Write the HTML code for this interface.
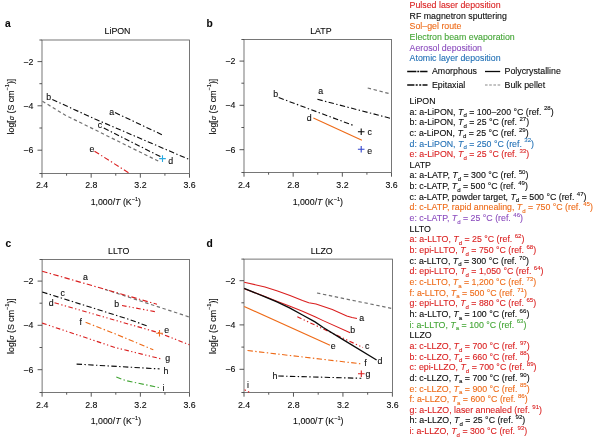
<!DOCTYPE html>
<html><head><meta charset="utf-8"><title>Ionic conductivity of thin-film solid electrolytes</title>
<style>
html,body{margin:0;padding:0;background:#fff;}
body{width:600px;height:440px;overflow:hidden;}
svg{display:block;font-family:"Liberation Sans",sans-serif;}
text{white-space:pre;stroke-width:0.1;}
</style></head><body>
<svg width="600" height="440" viewBox="0 0 600 440">
<rect width="600" height="440" fill="#fff"/>
<g id="pa">
<rect x="42.0" y="40.0" width="147.5" height="133.5" fill="none" stroke="#555" stroke-width="0.8"/>
<line x1="39.4" y1="40.0" x2="42.0" y2="40.0" stroke="#444" stroke-width="0.9"/>
<line x1="37.5" y1="61.6" x2="42.0" y2="61.6" stroke="#444" stroke-width="0.9"/>
<line x1="39.4" y1="83.7" x2="42.0" y2="83.7" stroke="#444" stroke-width="0.9"/>
<line x1="37.5" y1="105.8" x2="42.0" y2="105.8" stroke="#444" stroke-width="0.9"/>
<line x1="39.4" y1="128.0" x2="42.0" y2="128.0" stroke="#444" stroke-width="0.9"/>
<line x1="37.5" y1="150.2" x2="42.0" y2="150.2" stroke="#444" stroke-width="0.9"/>
<line x1="39.4" y1="173.5" x2="42.0" y2="173.5" stroke="#444" stroke-width="0.9"/>
<line x1="42.0" y1="173.5" x2="42.0" y2="177.7" stroke="#444" stroke-width="0.9"/>
<line x1="66.58" y1="173.5" x2="66.58" y2="175.7" stroke="#444" stroke-width="0.9"/>
<line x1="91.17" y1="173.5" x2="91.17" y2="177.7" stroke="#444" stroke-width="0.9"/>
<line x1="115.75" y1="173.5" x2="115.75" y2="175.7" stroke="#444" stroke-width="0.9"/>
<line x1="140.33" y1="173.5" x2="140.33" y2="177.7" stroke="#444" stroke-width="0.9"/>
<line x1="164.92" y1="173.5" x2="164.92" y2="175.7" stroke="#444" stroke-width="0.9"/>
<line x1="189.5" y1="173.5" x2="189.5" y2="177.7" stroke="#444" stroke-width="0.9"/>
<text x="33.3" y="64.7" text-anchor="end" fill="#0a0a0a" stroke="#0a0a0a" font-size="8.8" >−2</text>
<text x="33.3" y="108.9" text-anchor="end" fill="#0a0a0a" stroke="#0a0a0a" font-size="8.8" >−4</text>
<text x="33.3" y="153.3" text-anchor="end" fill="#0a0a0a" stroke="#0a0a0a" font-size="8.8" >−6</text>
<text x="42.1" y="188.1" text-anchor="middle" fill="#0a0a0a" stroke="#0a0a0a" font-size="8.8" >2.4</text>
<text x="91.27" y="188.1" text-anchor="middle" fill="#0a0a0a" stroke="#0a0a0a" font-size="8.8" >2.8</text>
<text x="140.43" y="188.1" text-anchor="middle" fill="#0a0a0a" stroke="#0a0a0a" font-size="8.8" >3.2</text>
<text x="189.6" y="188.1" text-anchor="middle" fill="#0a0a0a" stroke="#0a0a0a" font-size="8.8" >3.6</text>
<text x="117.5" y="33.6" text-anchor="middle" fill="#0a0a0a" stroke="#0a0a0a" font-size="8.8" >LiPON</text>
<text x="5" y="27" text-anchor="start" fill="#0a0a0a" stroke="#0a0a0a" font-size="10.2" font-weight="bold">a</text>
<text x="115.85" y="205" text-anchor="middle" fill="#0a0a0a" stroke="#0a0a0a" font-size="8.8" >1,000/<tspan font-style="italic">T</tspan> (K<tspan dy="-3.9" font-size="5.6">−1</tspan><tspan dy="3.9">)</tspan></text>
<text transform="translate(13.899999999999999 106.6) rotate(-90)" text-anchor="middle" font-size="8.8" fill="#0a0a0a" stroke="#0a0a0a">log[<tspan font-style="italic" font-size="7.2">σ</tspan> (S cm<tspan dy="-5.4" font-size="5.6">−1</tspan><tspan dy="5.4">)]</tspan></text>
<path d="M42.4 101.2 L65 115 L160.5 162.2" fill="none" stroke="#707070" stroke-width="1.2" stroke-dasharray="3.4 2.65"/>
<path d="M52.3 99.5 L95 119 L189.5 159.6" fill="none" stroke="#0a0a0a" stroke-width="1.12" stroke-dasharray="5.4 2.4 1.4 2.4"/>
<path d="M115 112.6 L163 135.2" fill="none" stroke="#0a0a0a" stroke-width="1.12" stroke-dasharray="5.4 2.4 1.4 2.4"/>
<path d="M103.8 128 L162.3 157.6" fill="none" stroke="#0a0a0a" stroke-width="1.12" stroke-dasharray="5.4 2.4 1.4 2.4"/>
<path d="M94.5 151.2 L129.6 173.4" fill="none" stroke="#da1e1e" stroke-width="1.12" stroke-dasharray="5.4 2.4 1.4 2.4"/>
<path d="M159.2 158.6H165.8M162.5 155.29999999999998V161.9" fill="none" stroke="#29a9e0" stroke-width="1.1"/>
<text x="111.8" y="114.8" text-anchor="middle" fill="#0a0a0a" stroke="#0a0a0a" font-size="8.8" >a</text>
<text x="48.8" y="99.8" text-anchor="middle" fill="#0a0a0a" stroke="#0a0a0a" font-size="8.8" >b</text>
<text x="100" y="128.3" text-anchor="middle" fill="#0a0a0a" stroke="#0a0a0a" font-size="8.8" >c</text>
<text x="170.8" y="164.3" text-anchor="middle" fill="#0a0a0a" stroke="#0a0a0a" font-size="8.8" >d</text>
<text x="92" y="151.9" text-anchor="middle" fill="#0a0a0a" stroke="#0a0a0a" font-size="8.8" >e</text>
</g>
<g id="pb">
<rect x="244.0" y="39.5" width="147.5" height="133.0" fill="none" stroke="#555" stroke-width="0.8"/>
<line x1="241.4" y1="39.5" x2="244.0" y2="39.5" stroke="#444" stroke-width="0.9"/>
<line x1="239.5" y1="61.1" x2="244.0" y2="61.1" stroke="#444" stroke-width="0.9"/>
<line x1="241.4" y1="83.2" x2="244.0" y2="83.2" stroke="#444" stroke-width="0.9"/>
<line x1="239.5" y1="105.3" x2="244.0" y2="105.3" stroke="#444" stroke-width="0.9"/>
<line x1="241.4" y1="127.5" x2="244.0" y2="127.5" stroke="#444" stroke-width="0.9"/>
<line x1="239.5" y1="149.7" x2="244.0" y2="149.7" stroke="#444" stroke-width="0.9"/>
<line x1="241.4" y1="172.5" x2="244.0" y2="172.5" stroke="#444" stroke-width="0.9"/>
<line x1="244.0" y1="172.5" x2="244.0" y2="176.7" stroke="#444" stroke-width="0.9"/>
<line x1="268.58" y1="172.5" x2="268.58" y2="174.7" stroke="#444" stroke-width="0.9"/>
<line x1="293.17" y1="172.5" x2="293.17" y2="176.7" stroke="#444" stroke-width="0.9"/>
<line x1="317.75" y1="172.5" x2="317.75" y2="174.7" stroke="#444" stroke-width="0.9"/>
<line x1="342.33" y1="172.5" x2="342.33" y2="176.7" stroke="#444" stroke-width="0.9"/>
<line x1="366.92" y1="172.5" x2="366.92" y2="174.7" stroke="#444" stroke-width="0.9"/>
<line x1="391.5" y1="172.5" x2="391.5" y2="176.7" stroke="#444" stroke-width="0.9"/>
<text x="235.3" y="64.2" text-anchor="end" fill="#0a0a0a" stroke="#0a0a0a" font-size="8.8" >−2</text>
<text x="235.3" y="108.4" text-anchor="end" fill="#0a0a0a" stroke="#0a0a0a" font-size="8.8" >−4</text>
<text x="235.3" y="152.8" text-anchor="end" fill="#0a0a0a" stroke="#0a0a0a" font-size="8.8" >−6</text>
<text x="244.1" y="188.1" text-anchor="middle" fill="#0a0a0a" stroke="#0a0a0a" font-size="8.8" >2.4</text>
<text x="293.27" y="188.1" text-anchor="middle" fill="#0a0a0a" stroke="#0a0a0a" font-size="8.8" >2.8</text>
<text x="342.43" y="188.1" text-anchor="middle" fill="#0a0a0a" stroke="#0a0a0a" font-size="8.8" >3.2</text>
<text x="391.6" y="188.1" text-anchor="middle" fill="#0a0a0a" stroke="#0a0a0a" font-size="8.8" >3.6</text>
<text x="320.9" y="33.6" text-anchor="middle" fill="#0a0a0a" stroke="#0a0a0a" font-size="8.8" >LATP</text>
<text x="206.6" y="27" text-anchor="start" fill="#0a0a0a" stroke="#0a0a0a" font-size="10.2" font-weight="bold">b</text>
<text x="317.85" y="205" text-anchor="middle" fill="#0a0a0a" stroke="#0a0a0a" font-size="8.8" >1,000/<tspan font-style="italic">T</tspan> (K<tspan dy="-3.9" font-size="5.6">−1</tspan><tspan dy="3.9">)</tspan></text>
<text transform="translate(215.9 106.6) rotate(-90)" text-anchor="middle" font-size="8.8" fill="#0a0a0a" stroke="#0a0a0a">log[<tspan font-style="italic" font-size="7.2">σ</tspan> (S cm<tspan dy="-5.4" font-size="5.6">−1</tspan><tspan dy="5.4">)]</tspan></text>
<path d="M367.7 88 L391.2 94.1" fill="none" stroke="#707070" stroke-width="1.2" stroke-dasharray="3.4 2.65"/>
<path d="M278.7 97.6 L353 125.3" fill="none" stroke="#0a0a0a" stroke-width="1.12" stroke-dasharray="5.4 2.4 1.4 2.4"/>
<path d="M317.4 99.3 L391.2 118.5" fill="none" stroke="#0a0a0a" stroke-width="1.12" stroke-dasharray="5.4 2.4 1.4 2.4"/>
<path d="M313.4 118 L361.9 140.3" fill="none" stroke="#ee6a17" stroke-width="1.1"/>
<path d="M357.9 131.8H364.5M361.2 128.5V135.10000000000002" fill="none" stroke="#0a0a0a" stroke-width="1.1"/>
<path d="M357.9 149.2H364.5M361.2 145.89999999999998V152.5" fill="none" stroke="#3344cc" stroke-width="1.1"/>
<text x="275.7" y="97.2" text-anchor="middle" fill="#0a0a0a" stroke="#0a0a0a" font-size="8.8" >b</text>
<text x="320.7" y="94.1" text-anchor="middle" fill="#0a0a0a" stroke="#0a0a0a" font-size="8.8" >a</text>
<text x="309.2" y="120.8" text-anchor="middle" fill="#0a0a0a" stroke="#0a0a0a" font-size="8.8" >d</text>
<text x="369.6" y="134.9" text-anchor="middle" fill="#0a0a0a" stroke="#0a0a0a" font-size="8.8" >c</text>
<text x="369.6" y="154.3" text-anchor="middle" fill="#0a0a0a" stroke="#0a0a0a" font-size="8.8" >e</text>
</g>
<g id="pc">
<rect x="42.1" y="259.5" width="147.4" height="133.0" fill="none" stroke="#555" stroke-width="0.8"/>
<line x1="39.5" y1="259.5" x2="42.1" y2="259.5" stroke="#444" stroke-width="0.9"/>
<line x1="37.6" y1="281.1" x2="42.1" y2="281.1" stroke="#444" stroke-width="0.9"/>
<line x1="39.5" y1="303.2" x2="42.1" y2="303.2" stroke="#444" stroke-width="0.9"/>
<line x1="37.6" y1="325.3" x2="42.1" y2="325.3" stroke="#444" stroke-width="0.9"/>
<line x1="39.5" y1="347.5" x2="42.1" y2="347.5" stroke="#444" stroke-width="0.9"/>
<line x1="37.6" y1="369.7" x2="42.1" y2="369.7" stroke="#444" stroke-width="0.9"/>
<line x1="39.5" y1="392.5" x2="42.1" y2="392.5" stroke="#444" stroke-width="0.9"/>
<line x1="42.1" y1="392.5" x2="42.1" y2="396.7" stroke="#444" stroke-width="0.9"/>
<line x1="66.67" y1="392.5" x2="66.67" y2="394.7" stroke="#444" stroke-width="0.9"/>
<line x1="91.23" y1="392.5" x2="91.23" y2="396.7" stroke="#444" stroke-width="0.9"/>
<line x1="115.8" y1="392.5" x2="115.8" y2="394.7" stroke="#444" stroke-width="0.9"/>
<line x1="140.37" y1="392.5" x2="140.37" y2="396.7" stroke="#444" stroke-width="0.9"/>
<line x1="164.93" y1="392.5" x2="164.93" y2="394.7" stroke="#444" stroke-width="0.9"/>
<line x1="189.5" y1="392.5" x2="189.5" y2="396.7" stroke="#444" stroke-width="0.9"/>
<text x="33.400000000000006" y="284.2" text-anchor="end" fill="#0a0a0a" stroke="#0a0a0a" font-size="8.8" >−2</text>
<text x="33.400000000000006" y="328.4" text-anchor="end" fill="#0a0a0a" stroke="#0a0a0a" font-size="8.8" >−4</text>
<text x="33.400000000000006" y="372.8" text-anchor="end" fill="#0a0a0a" stroke="#0a0a0a" font-size="8.8" >−6</text>
<text x="42.2" y="407.6" text-anchor="middle" fill="#0a0a0a" stroke="#0a0a0a" font-size="8.8" >2.4</text>
<text x="91.33" y="407.6" text-anchor="middle" fill="#0a0a0a" stroke="#0a0a0a" font-size="8.8" >2.8</text>
<text x="140.47" y="407.6" text-anchor="middle" fill="#0a0a0a" stroke="#0a0a0a" font-size="8.8" >3.2</text>
<text x="189.6" y="407.6" text-anchor="middle" fill="#0a0a0a" stroke="#0a0a0a" font-size="8.8" >3.6</text>
<text x="118.7" y="253.8" text-anchor="middle" fill="#0a0a0a" stroke="#0a0a0a" font-size="8.8" >LLTO</text>
<text x="5.4" y="246.5" text-anchor="start" fill="#0a0a0a" stroke="#0a0a0a" font-size="10.2" font-weight="bold">c</text>
<text x="115.89999999999999" y="424" text-anchor="middle" fill="#0a0a0a" stroke="#0a0a0a" font-size="8.8" >1,000/<tspan font-style="italic">T</tspan> (K<tspan dy="-3.9" font-size="5.6">−1</tspan><tspan dy="3.9">)</tspan></text>
<text transform="translate(14.0 326.1) rotate(-90)" text-anchor="middle" font-size="8.8" fill="#0a0a0a" stroke="#0a0a0a">log[<tspan font-style="italic" font-size="7.2">σ</tspan> (S cm<tspan dy="-5.4" font-size="5.6">−1</tspan><tspan dy="5.4">)]</tspan></text>
<path d="M105 289.4 L189.3 317" fill="none" stroke="#707070" stroke-width="1.2" stroke-dasharray="3.4 2.65"/>
<path d="M42.2 271.2 L157 304.3" fill="none" stroke="#da1e1e" stroke-width="1.12" stroke-dasharray="5.4 2.4 1.4 2.4"/>
<path d="M122 305.5 L157 312" fill="none" stroke="#da1e1e" stroke-width="1.12" stroke-dasharray="4.6 2.4 1.3 2.4 1.3 2.4"/>
<path d="M42.2 292 L130 319.7 L148.8 326.6" fill="none" stroke="#0a0a0a" stroke-width="1.12" stroke-dasharray="5.4 2.4 1.4 2.4"/>
<path d="M54.5 302.8 L159 332.8 L189.4 344.8" fill="none" stroke="#da1e1e" stroke-width="1.12" stroke-dasharray="4.6 2.4 1.3 2.4 1.3 2.4"/>
<path d="M85.6 322.3 L115 333.8 L153.3 349.8" fill="none" stroke="#ee6a17" stroke-width="1.12" stroke-dasharray="5.4 2.4 1.4 2.4"/>
<path d="M42.2 323.1 L115 347.5 L162.5 359.2" fill="none" stroke="#da1e1e" stroke-width="1.12" stroke-dasharray="4.6 2.4 1.3 2.4 1.3 2.4"/>
<path d="M76.6 364.1 L159.5 368.9" fill="none" stroke="#0a0a0a" stroke-width="1.12" stroke-dasharray="5.4 2.4 1.4 2.4"/>
<path d="M116.3 376.9 L125 380.4 L159.3 387.6" fill="none" stroke="#43a535" stroke-width="1.12" stroke-dasharray="5.4 2.4 1.4 2.4"/>
<path d="M156.2 333.2H162.8M159.5 329.9V336.5" fill="none" stroke="#ee6a17" stroke-width="1.1"/>
<text x="85.5" y="280.3" text-anchor="middle" fill="#0a0a0a" stroke="#0a0a0a" font-size="8.8" >a</text>
<text x="116.8" y="307.1" text-anchor="middle" fill="#0a0a0a" stroke="#0a0a0a" font-size="8.8" >b</text>
<text x="62.8" y="295.6" text-anchor="middle" fill="#0a0a0a" stroke="#0a0a0a" font-size="8.8" >c</text>
<text x="51.3" y="306.3" text-anchor="middle" fill="#0a0a0a" stroke="#0a0a0a" font-size="8.8" >d</text>
<text x="166.8" y="333.3" text-anchor="middle" fill="#0a0a0a" stroke="#0a0a0a" font-size="8.8" >e</text>
<text x="80.8" y="324.6" text-anchor="middle" fill="#0a0a0a" stroke="#0a0a0a" font-size="8.8" >f</text>
<text x="167.8" y="360.7" text-anchor="middle" fill="#0a0a0a" stroke="#0a0a0a" font-size="8.8" >g</text>
<text x="166" y="373.8" text-anchor="middle" fill="#0a0a0a" stroke="#0a0a0a" font-size="8.8" >h</text>
<text x="163.6" y="390.90000000000003" text-anchor="middle" fill="#0a0a0a" stroke="#0a0a0a" font-size="8.8" >i</text>
</g>
<g id="pd">
<rect x="244.0" y="259.1" width="148.39999999999998" height="133.39999999999998" fill="none" stroke="#555" stroke-width="0.8"/>
<line x1="241.4" y1="259.1" x2="244.0" y2="259.1" stroke="#444" stroke-width="0.9"/>
<line x1="239.5" y1="280.70000000000005" x2="244.0" y2="280.70000000000005" stroke="#444" stroke-width="0.9"/>
<line x1="241.4" y1="302.8" x2="244.0" y2="302.8" stroke="#444" stroke-width="0.9"/>
<line x1="239.5" y1="324.90000000000003" x2="244.0" y2="324.90000000000003" stroke="#444" stroke-width="0.9"/>
<line x1="241.4" y1="347.1" x2="244.0" y2="347.1" stroke="#444" stroke-width="0.9"/>
<line x1="239.5" y1="369.3" x2="244.0" y2="369.3" stroke="#444" stroke-width="0.9"/>
<line x1="241.4" y1="392.5" x2="244.0" y2="392.5" stroke="#444" stroke-width="0.9"/>
<line x1="244.0" y1="392.5" x2="244.0" y2="396.7" stroke="#444" stroke-width="0.9"/>
<line x1="268.73" y1="392.5" x2="268.73" y2="394.7" stroke="#444" stroke-width="0.9"/>
<line x1="293.47" y1="392.5" x2="293.47" y2="396.7" stroke="#444" stroke-width="0.9"/>
<line x1="318.2" y1="392.5" x2="318.2" y2="394.7" stroke="#444" stroke-width="0.9"/>
<line x1="342.93" y1="392.5" x2="342.93" y2="396.7" stroke="#444" stroke-width="0.9"/>
<line x1="367.67" y1="392.5" x2="367.67" y2="394.7" stroke="#444" stroke-width="0.9"/>
<line x1="392.4" y1="392.5" x2="392.4" y2="396.7" stroke="#444" stroke-width="0.9"/>
<text x="235.3" y="283.8" text-anchor="end" fill="#0a0a0a" stroke="#0a0a0a" font-size="8.8" >−2</text>
<text x="235.3" y="328.0" text-anchor="end" fill="#0a0a0a" stroke="#0a0a0a" font-size="8.8" >−4</text>
<text x="235.3" y="372.4" text-anchor="end" fill="#0a0a0a" stroke="#0a0a0a" font-size="8.8" >−6</text>
<text x="244.1" y="407.6" text-anchor="middle" fill="#0a0a0a" stroke="#0a0a0a" font-size="8.8" >2.4</text>
<text x="293.57" y="407.6" text-anchor="middle" fill="#0a0a0a" stroke="#0a0a0a" font-size="8.8" >2.8</text>
<text x="343.03" y="407.6" text-anchor="middle" fill="#0a0a0a" stroke="#0a0a0a" font-size="8.8" >3.2</text>
<text x="392.5" y="407.6" text-anchor="middle" fill="#0a0a0a" stroke="#0a0a0a" font-size="8.8" >3.6</text>
<text x="321.7" y="253.8" text-anchor="middle" fill="#0a0a0a" stroke="#0a0a0a" font-size="8.8" >LLZO</text>
<text x="206.6" y="246.5" text-anchor="start" fill="#0a0a0a" stroke="#0a0a0a" font-size="10.2" font-weight="bold">d</text>
<text x="318.3" y="424" text-anchor="middle" fill="#0a0a0a" stroke="#0a0a0a" font-size="8.8" >1,000/<tspan font-style="italic">T</tspan> (K<tspan dy="-3.9" font-size="5.6">−1</tspan><tspan dy="3.9">)</tspan></text>
<text transform="translate(215.9 326.1) rotate(-90)" text-anchor="middle" font-size="8.8" fill="#0a0a0a" stroke="#0a0a0a">log[<tspan font-style="italic" font-size="7.2">σ</tspan> (S cm<tspan dy="-5.4" font-size="5.6">−1</tspan><tspan dy="5.4">)]</tspan></text>
<path d="M317 293 L391.2 308.3" fill="none" stroke="#707070" stroke-width="1.2" stroke-dasharray="3.4 2.65"/>
<path d="M244.2 282.2 L265 286.9 L277.5 291 L290 295.6 L302.5 300.6 L308.8 302.7 L316 303.9 L332.3 309.5 L346.8 315.9 L352 317.6 L357 318.6" fill="none" stroke="#da1e1e" stroke-width="1.05"/>
<path d="M244.2 288.7 L265 296.6 L277.5 301.6 L290 306.2 L302.5 311.2 L315 316.7 L323.2 320.6 L350.2 332.8" fill="none" stroke="#da1e1e" stroke-width="1.05"/>
<path d="M297.3 316.8 L363 347.5" fill="none" stroke="#da1e1e" stroke-width="1.12" stroke-dasharray="4.6 2.4 1.3 2.4 1.3 2.4"/>
<path d="M244.2 306.5 L330 345.2" fill="none" stroke="#ee6a17" stroke-width="1.2"/>
<path d="M247.5 350.5 L362.6 364" fill="none" stroke="#ee6a17" stroke-width="1.12" stroke-dasharray="5.4 2.4 1.4 2.4"/>
<path d="M244.2 288.4 L265 296.8 L277.5 302.2 L290 308.1 L302.5 315 L315 321.9 L323.2 327.5 L341.4 338.6 L376.6 360" fill="none" stroke="#0a0a0a" stroke-width="1.35"/>
<path d="M278.3 376 L361.3 378.3" fill="none" stroke="#0a0a0a" stroke-width="1.12" stroke-dasharray="5.4 2.4 1.4 2.4"/>
<path d="M244.6 389.7 L249.4 392.3" fill="none" stroke="#da1e1e" stroke-width="1.12" stroke-dasharray="1.5 2.3 1.5 9"/>
<path d="M358.0 373.8H364.6M361.3 370.5V377.1" fill="none" stroke="#da1e1e" stroke-width="1.1"/>
<text x="361.8" y="320.6" text-anchor="middle" fill="#0a0a0a" stroke="#0a0a0a" font-size="8.8" >a</text>
<text x="352.6" y="333.3" text-anchor="middle" fill="#0a0a0a" stroke="#0a0a0a" font-size="8.8" >b</text>
<text x="367.2" y="348.6" text-anchor="middle" fill="#0a0a0a" stroke="#0a0a0a" font-size="8.8" >c</text>
<text x="380" y="363.6" text-anchor="middle" fill="#0a0a0a" stroke="#0a0a0a" font-size="8.8" >d</text>
<text x="333.3" y="348.6" text-anchor="middle" fill="#0a0a0a" stroke="#0a0a0a" font-size="8.8" >e</text>
<text x="365.5" y="366.3" text-anchor="middle" fill="#0a0a0a" stroke="#0a0a0a" font-size="8.8" >f</text>
<text x="368" y="376.6" text-anchor="middle" fill="#0a0a0a" stroke="#0a0a0a" font-size="8.8" >g</text>
<text x="275" y="379.1" text-anchor="middle" fill="#0a0a0a" stroke="#0a0a0a" font-size="8.8" >h</text>
<text x="248" y="387.8" text-anchor="middle" fill="#0a0a0a" stroke="#0a0a0a" font-size="8.8" >i</text>
</g>
<g id="lg">
<text x="409.6" y="8" text-anchor="start" fill="#da1e1e" stroke="#da1e1e" font-size="8.8" >Pulsed laser deposition</text>
<text x="409.6" y="19" text-anchor="start" fill="#0a0a0a" stroke="#0a0a0a" font-size="8.8" >RF magnetron sputtering</text>
<text x="409.6" y="29" text-anchor="start" fill="#ee6a17" stroke="#ee6a17" font-size="8.8" >Sol–gel route</text>
<text x="409.6" y="40" text-anchor="start" fill="#43a535" stroke="#43a535" font-size="8.8" >Electron beam evaporation</text>
<text x="409.6" y="51" text-anchor="start" fill="#8b4cbe" stroke="#8b4cbe" font-size="8.8" >Aerosol deposition</text>
<text x="409.6" y="61" text-anchor="start" fill="#1f6fb5" stroke="#1f6fb5" font-size="8.8" >Atomic layer deposition</text>
<path d="M407.2 71.5H427.5" stroke="#0a0a0a" stroke-width="1.3" stroke-dasharray="9.2 0.9 1.9 0.9 9.5" fill="none"/>
<text x="432" y="74" text-anchor="start" fill="#0a0a0a" stroke="#0a0a0a" font-size="8.8" >Amorphous</text>
<path d="M485 71.5H500.2" stroke="#0a0a0a" stroke-width="1.3" fill="none"/>
<text x="504.6" y="74" text-anchor="start" fill="#0a0a0a" stroke="#0a0a0a" font-size="8.8" >Polycrystalline</text>
<path d="M407.2 85H427.5" stroke="#0a0a0a" stroke-width="1.6" stroke-dasharray="7.2 1.3 2 1.5 2 1.3 5" fill="none"/>
<text x="432" y="87.6" text-anchor="start" fill="#0a0a0a" stroke="#0a0a0a" font-size="8.8" >Epitaxial</text>
<path d="M485 85H500.2" stroke="#b0b0b0" stroke-width="1.5" stroke-dasharray="2.6 1.6" fill="none"/>
<text x="504.6" y="87.6" text-anchor="start" fill="#0a0a0a" stroke="#0a0a0a" font-size="8.8" >Bulk pellet</text>
<text x="409.6" y="103.9" text-anchor="start" fill="#0a0a0a" stroke="#0a0a0a" font-size="8.8" >LiPON</text>
<text x="409.6" y="114.55" text-anchor="start" fill="#0a0a0a" stroke="#0a0a0a" font-size="8.8" >a: a-LiPON, <tspan font-style="italic">T</tspan><tspan dy="2.6" font-size="6.1">d</tspan><tspan dy="-2.6"> </tspan>= 100–200 °C (ref. <tspan dy="-4.1" font-size="6.1">28</tspan><tspan dy="4.1">)</tspan></text>
<text x="409.6" y="125.2" text-anchor="start" fill="#0a0a0a" stroke="#0a0a0a" font-size="8.8" >b: a-LiPON, <tspan font-style="italic">T</tspan><tspan dy="2.6" font-size="6.1">d</tspan><tspan dy="-2.6"> </tspan>= 25 °C (ref. <tspan dy="-4.1" font-size="6.1">27</tspan><tspan dy="4.1">)</tspan></text>
<text x="409.6" y="135.86" text-anchor="start" fill="#0a0a0a" stroke="#0a0a0a" font-size="8.8" >c: a-LiPON, <tspan font-style="italic">T</tspan><tspan dy="2.6" font-size="6.1">d</tspan><tspan dy="-2.6"> </tspan>= 25 °C (ref. <tspan dy="-4.1" font-size="6.1">29</tspan><tspan dy="4.1">)</tspan></text>
<text x="409.6" y="146.51" text-anchor="start" fill="#1f6fb5" stroke="#1f6fb5" font-size="8.8" >d: a-LiPON, <tspan font-style="italic">T</tspan><tspan dy="2.6" font-size="6.1">d</tspan><tspan dy="-2.6"> </tspan>= 250 °C (ref. <tspan dy="-4.1" font-size="6.1">32</tspan><tspan dy="4.1">)</tspan></text>
<text x="409.6" y="157.16" text-anchor="start" fill="#da1e1e" stroke="#da1e1e" font-size="8.8" >e: a-LiPON, <tspan font-style="italic">T</tspan><tspan dy="2.6" font-size="6.1">d</tspan><tspan dy="-2.6"> </tspan>= 25 °C (ref. <tspan dy="-4.1" font-size="6.1">33</tspan><tspan dy="4.1">)</tspan></text>
<text x="409.6" y="167.81" text-anchor="start" fill="#0a0a0a" stroke="#0a0a0a" font-size="8.8" >LATP</text>
<text x="409.6" y="178.46" text-anchor="start" fill="#0a0a0a" stroke="#0a0a0a" font-size="8.8" >a: a-LATP, <tspan font-style="italic">T</tspan><tspan dy="2.6" font-size="6.1">d</tspan><tspan dy="-2.6"> </tspan>= 300 °C (ref. <tspan dy="-4.1" font-size="6.1">50</tspan><tspan dy="4.1">)</tspan></text>
<text x="409.6" y="189.12" text-anchor="start" fill="#0a0a0a" stroke="#0a0a0a" font-size="8.8" >b: c-LATP, <tspan font-style="italic">T</tspan><tspan dy="2.6" font-size="6.1">d</tspan><tspan dy="-2.6"> </tspan>= 500 °C (ref. <tspan dy="-4.1" font-size="6.1">49</tspan><tspan dy="4.1">)</tspan></text>
<text x="409.6" y="199.77" text-anchor="start" fill="#0a0a0a" stroke="#0a0a0a" font-size="8.8" >c: a-LATP, powder target, <tspan font-style="italic">T</tspan><tspan dy="2.6" font-size="6.1">d</tspan><tspan dy="-2.6"> </tspan>= 500 °C (ref. <tspan dy="-4.1" font-size="6.1">47</tspan><tspan dy="4.1">)</tspan></text>
<text x="409.6" y="210.42" text-anchor="start" fill="#ee6a17" stroke="#ee6a17" font-size="8.8" >d: c-LATP, rapid annealing, <tspan font-style="italic">T</tspan><tspan dy="2.6" font-size="6.1">d</tspan><tspan dy="-2.6"> </tspan>= 750 °C (ref. <tspan dy="-4.1" font-size="6.1">45</tspan><tspan dy="4.1">)</tspan></text>
<text x="409.6" y="221.07" text-anchor="start" fill="#8b4cbe" stroke="#8b4cbe" font-size="8.8" >e: c-LATP, <tspan font-style="italic">T</tspan><tspan dy="2.6" font-size="6.1">d</tspan><tspan dy="-2.6"> </tspan>= 25 °C (ref. <tspan dy="-4.1" font-size="6.1">46</tspan><tspan dy="4.1">)</tspan></text>
<text x="409.6" y="231.72" text-anchor="start" fill="#0a0a0a" stroke="#0a0a0a" font-size="8.8" >LLTO</text>
<text x="409.6" y="242.38" text-anchor="start" fill="#da1e1e" stroke="#da1e1e" font-size="8.8" >a: a-LLTO, <tspan font-style="italic">T</tspan><tspan dy="2.6" font-size="6.1">d</tspan><tspan dy="-2.6"> </tspan>= 25 °C (ref. <tspan dy="-4.1" font-size="6.1">62</tspan><tspan dy="4.1">)</tspan></text>
<text x="409.6" y="253.03" text-anchor="start" fill="#da1e1e" stroke="#da1e1e" font-size="8.8" >b: epi-LLTO, <tspan font-style="italic">T</tspan><tspan dy="2.6" font-size="6.1">d</tspan><tspan dy="-2.6"> </tspan>= 750 °C (ref. <tspan dy="-4.1" font-size="6.1">68</tspan><tspan dy="4.1">)</tspan></text>
<text x="409.6" y="263.68" text-anchor="start" fill="#0a0a0a" stroke="#0a0a0a" font-size="8.8" >c: a-LLTO, <tspan font-style="italic">T</tspan><tspan dy="2.6" font-size="6.1">d</tspan><tspan dy="-2.6"> </tspan>= 300 °C (ref. <tspan dy="-4.1" font-size="6.1">70</tspan><tspan dy="4.1">)</tspan></text>
<text x="409.6" y="274.33" text-anchor="start" fill="#da1e1e" stroke="#da1e1e" font-size="8.8" >d: epi-LLTO, <tspan font-style="italic">T</tspan><tspan dy="2.6" font-size="6.1">d</tspan><tspan dy="-2.6"> </tspan>= 1,050 °C (ref. <tspan dy="-4.1" font-size="6.1">64</tspan><tspan dy="4.1">)</tspan></text>
<text x="409.6" y="284.98" text-anchor="start" fill="#ee6a17" stroke="#ee6a17" font-size="8.8" >e: c-LLTO, <tspan font-style="italic">T</tspan><tspan dy="2.6" font-size="6.1">a</tspan><tspan dy="-2.6"> </tspan>= 1,200 °C (ref. <tspan dy="-4.1" font-size="6.1">73</tspan><tspan dy="4.1">)</tspan></text>
<text x="409.6" y="295.64" text-anchor="start" fill="#ee6a17" stroke="#ee6a17" font-size="8.8" >f: a-LLTO, <tspan font-style="italic">T</tspan><tspan dy="2.6" font-size="6.1">a</tspan><tspan dy="-2.6"> </tspan>= 500 °C (ref. <tspan dy="-4.1" font-size="6.1">71</tspan><tspan dy="4.1">)</tspan></text>
<text x="409.6" y="306.29" text-anchor="start" fill="#da1e1e" stroke="#da1e1e" font-size="8.8" >g: epi-LLTO, <tspan font-style="italic">T</tspan><tspan dy="2.6" font-size="6.1">d</tspan><tspan dy="-2.6"> </tspan>= 880 °C (ref. <tspan dy="-4.1" font-size="6.1">65</tspan><tspan dy="4.1">)</tspan></text>
<text x="409.6" y="316.94" text-anchor="start" fill="#0a0a0a" stroke="#0a0a0a" font-size="8.8" >h: a-LLTO, <tspan font-style="italic">T</tspan><tspan dy="2.6" font-size="6.1">a</tspan><tspan dy="-2.6"> </tspan>= 100 °C (ref. <tspan dy="-4.1" font-size="6.1">66</tspan><tspan dy="4.1">)</tspan></text>
<text x="409.6" y="327.59" text-anchor="start" fill="#43a535" stroke="#43a535" font-size="8.8" >i: a-LLTO, <tspan font-style="italic">T</tspan><tspan dy="2.6" font-size="6.1">a</tspan><tspan dy="-2.6"> </tspan>= 100 °C (ref. <tspan dy="-4.1" font-size="6.1">63</tspan><tspan dy="4.1">)</tspan></text>
<text x="409.6" y="338.24" text-anchor="start" fill="#0a0a0a" stroke="#0a0a0a" font-size="8.8" >LLZO</text>
<text x="409.6" y="348.9" text-anchor="start" fill="#da1e1e" stroke="#da1e1e" font-size="8.8" >a: c-LLZO, <tspan font-style="italic">T</tspan><tspan dy="2.6" font-size="6.1">d</tspan><tspan dy="-2.6"> </tspan>= 700 °C (ref. <tspan dy="-4.1" font-size="6.1">97</tspan><tspan dy="4.1">)</tspan></text>
<text x="409.6" y="359.55" text-anchor="start" fill="#da1e1e" stroke="#da1e1e" font-size="8.8" >b: c-LLZO, <tspan font-style="italic">T</tspan><tspan dy="2.6" font-size="6.1">d</tspan><tspan dy="-2.6"> </tspan>= 660 °C (ref. <tspan dy="-4.1" font-size="6.1">88</tspan><tspan dy="4.1">)</tspan></text>
<text x="409.6" y="370.2" text-anchor="start" fill="#da1e1e" stroke="#da1e1e" font-size="8.8" >c: epi-LLZO, <tspan font-style="italic">T</tspan><tspan dy="2.6" font-size="6.1">d</tspan><tspan dy="-2.6"> </tspan>= 700 °C (ref. <tspan dy="-4.1" font-size="6.1">89</tspan><tspan dy="4.1">)</tspan></text>
<text x="409.6" y="380.85" text-anchor="start" fill="#0a0a0a" stroke="#0a0a0a" font-size="8.8" >d: c-LLZO, <tspan font-style="italic">T</tspan><tspan dy="2.6" font-size="6.1">a</tspan><tspan dy="-2.6"> </tspan>= 700 °C (ref. <tspan dy="-4.1" font-size="6.1">90</tspan><tspan dy="4.1">)</tspan></text>
<text x="409.6" y="391.5" text-anchor="start" fill="#ee6a17" stroke="#ee6a17" font-size="8.8" >e: c-LLZO, <tspan font-style="italic">T</tspan><tspan dy="2.6" font-size="6.1">a</tspan><tspan dy="-2.6"> </tspan>= 900 °C (ref. <tspan dy="-4.1" font-size="6.1">85</tspan><tspan dy="4.1">)</tspan></text>
<text x="409.6" y="402.16" text-anchor="start" fill="#ee6a17" stroke="#ee6a17" font-size="8.8" >f: a-LLZO, <tspan font-style="italic">T</tspan><tspan dy="2.6" font-size="6.1">a</tspan><tspan dy="-2.6"> </tspan>= 600 °C (ref. <tspan dy="-4.1" font-size="6.1">86</tspan><tspan dy="4.1">)</tspan></text>
<text x="409.6" y="412.81" text-anchor="start" fill="#da1e1e" stroke="#da1e1e" font-size="8.8" >g: a-LLZO, laser annealed (ref. <tspan dy="-4.1" font-size="6.1">91</tspan><tspan dy="4.1">)</tspan></text>
<text x="409.6" y="423.46" text-anchor="start" fill="#0a0a0a" stroke="#0a0a0a" font-size="8.8" >h: a-LLZO, <tspan font-style="italic">T</tspan><tspan dy="2.6" font-size="6.1">d</tspan><tspan dy="-2.6"> </tspan>= 25 °C (ref. <tspan dy="-4.1" font-size="6.1">92</tspan><tspan dy="4.1">)</tspan></text>
<text x="409.6" y="434.11" text-anchor="start" fill="#da1e1e" stroke="#da1e1e" font-size="8.8" >i: a-LLZO, <tspan font-style="italic">T</tspan><tspan dy="2.6" font-size="6.1">d</tspan><tspan dy="-2.6"> </tspan>= 300 °C (ref. <tspan dy="-4.1" font-size="6.1">93</tspan><tspan dy="4.1">)</tspan></text>
</g>
</svg>
</body></html>
